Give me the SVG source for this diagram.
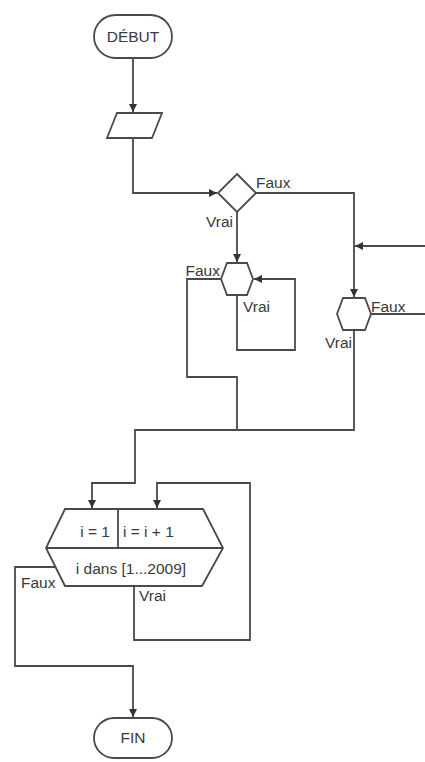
<svg xmlns="http://www.w3.org/2000/svg" width="425" height="762" viewBox="0 0 425 762">
<style>
.shape{fill:#fff;stroke:#4a4a4a;stroke-width:1.8}
.line{fill:none;stroke:#4a4a4a;stroke-width:1.8}
.arr{fill:none;stroke:#4a4a4a;stroke-width:1.8;marker-end:url(#ah)}
text{font-family:"Liberation Sans",Arial,sans-serif;font-size:15.5px;fill:#3a3a3a}
.c{text-anchor:middle}
.e{text-anchor:end}
</style>
<defs>
<marker id="ah" viewBox="0 0 8 8" refX="8" refY="4" markerWidth="8" markerHeight="8" markerUnits="userSpaceOnUse" orient="auto">
<path d="M0,0 L8,4 L0,8 z" fill="#333"/>
</marker>
</defs>
<rect width="425" height="762" fill="#fff"/>
<g id="connectors">
<path class="arr" d="M133,58 V112"/>
<path class="arr" d="M133,138 V193 H217"/>
<path class="arr" d="M237,212 V262"/>
<path class="arr" d="M256,193 H354 V297"/>
<path class="arr" d="M425,246 H355"/>
<path class="line" d="M221,279 H187 V377 H237 V430"/>
<path class="arr" d="M237,295 V350 H295 V279 H254"/>
<path class="line" d="M371,314 H425"/>
<path class="arr" d="M354,330 V430 H135 V483 H92 V508"/>
<path class="arr" d="M134,586 V640 H250 V483 H157 V508"/>
<path class="arr" d="M56,567 H15 V666 H133 V717"/>
</g>
<g id="debut">
<rect class="shape" x="94" y="15" width="78" height="43" rx="21.5"/>
<text class="c" x="133" y="42">DÉBUT</text>
</g>
<g id="input">
<polygon class="shape" points="117,113 162,113 152,138 107,138"/>
</g>
<g id="decision">
<polygon class="shape" points="237,174 256,193 237,212 218,193"/>
<text x="256" y="188">Faux</text>
<text class="e" x="233" y="227">Vrai</text>
</g>
<g id="while1">
<polygon class="shape" points="227,263 247,263 253,279 247,295 227,295 221,279"/>
<text class="e" x="220" y="276">Faux</text>
<text x="243" y="312">Vrai</text>
</g>
<g id="while2">
<polygon class="shape" points="343,298 365,298 371,314 365,330 343,330 337,314"/>
<text x="371" y="312">Faux</text>
<text class="e" x="352" y="348">Vrai</text>
</g>
<g id="forloop">
<polygon class="shape" points="65,509 203,509 223,548 202,586 65,586 46,548"/>
<line class="line" x1="46" y1="548" x2="223" y2="548"/>
<line class="line" x1="118" y1="509" x2="118" y2="548"/>
<text class="e" x="110" y="537">i = 1</text>
<text x="123" y="537">i = i + 1</text>
<text class="c" x="131" y="574">i dans [1...2009]</text>
<text x="21" y="588">Faux</text>
<text x="139" y="601">Vrai</text>
</g>
<g id="fin">
<rect class="shape" x="94" y="718" width="78" height="40" rx="20"/>
<text class="c" x="133" y="743">FIN</text>
</g>
</svg>
